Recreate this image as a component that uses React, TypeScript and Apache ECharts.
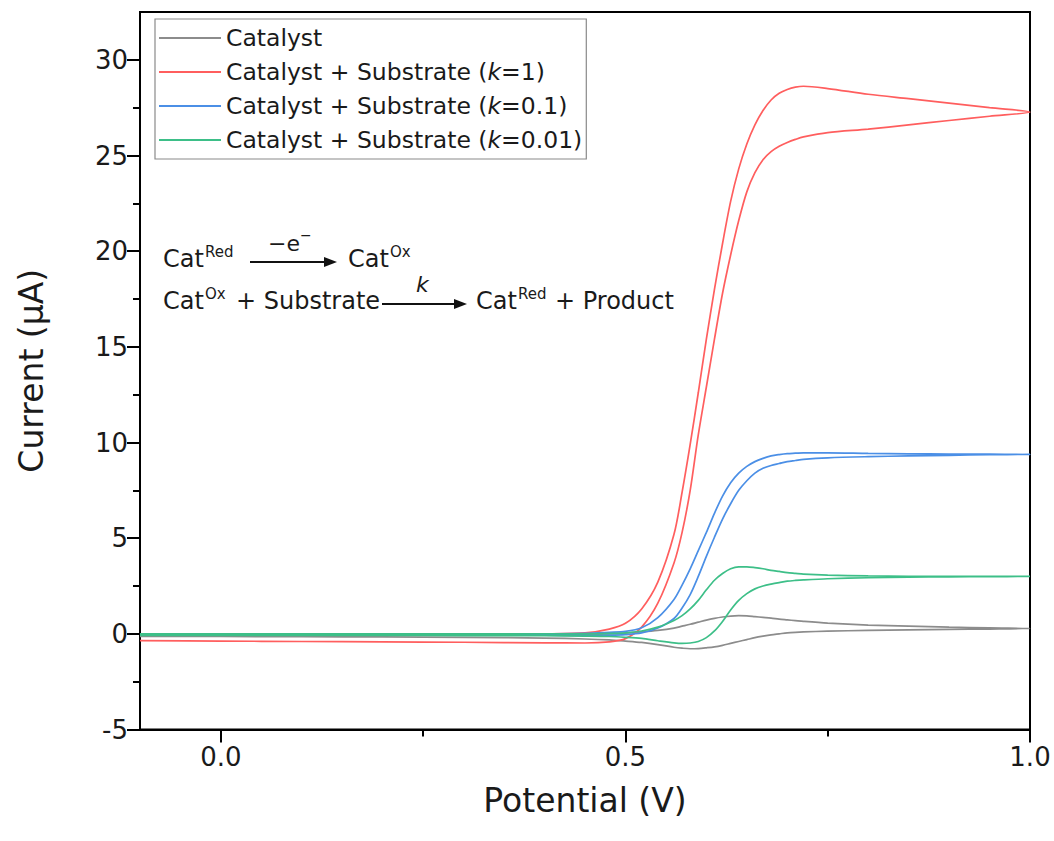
import React, { useEffect, useRef } from "react";
import * as echarts from "echarts";

// Potential grid (V) for the forward scan; the reverse scan uses it reversed
const potentialForward = [-0.1, 0, 0.1, 0.2, 0.3, 0.4, 0.45, 0.48, 0.5, 0.52, 0.54, 0.56, 0.57, 0.58, 0.59, 0.6, 0.61, 0.62, 0.63, 0.64, 0.65, 0.66, 0.67, 0.68, 0.69, 0.7, 0.71, 0.72, 0.75, 0.8, 0.85, 0.9, 0.95, 1.0];
const potentialReverse = [...potentialForward].reverse();

// Current (µA), forward scan (ascending potential)
const catalystFwd = [-0.06, -0.06, -0.06, -0.06, -0.06, -0.05, -0.03, 0.0, 0.04, 0.1, 0.18, 0.3, 0.4, 0.5, 0.61, 0.72, 0.81, 0.88, 0.93, 0.95, 0.94, 0.9, 0.86, 0.82, 0.77, 0.73, 0.69, 0.65, 0.56, 0.46, 0.4, 0.35, 0.31, 0.28];
const k1Fwd = [-0.03, -0.03, -0.03, -0.03, -0.02, 0.0, 0.05, 0.25, 0.55, 1.3, 2.7, 5.2, 7.4, 9.9, 12.6, 15.4, 18.0, 20.4, 22.6, 24.3, 25.6, 26.6, 27.35, 27.9, 28.25, 28.45, 28.57, 28.62, 28.5, 28.2, 27.97, 27.74, 27.5, 27.27];
const k01Fwd = [-0.02, -0.02, -0.02, -0.02, -0.02, 0.0, 0.02, 0.08, 0.13, 0.32, 0.85, 1.8, 2.55, 3.4, 4.35, 5.3, 6.3, 7.2, 7.9, 8.4, 8.75, 9.0, 9.17, 9.3, 9.37, 9.42, 9.44, 9.46, 9.46, 9.43, 9.41, 9.4, 9.39, 9.38];
const k001Fwd = [0.0, 0.0, 0.0, 0.0, 0.0, 0.0, 0.0, 0.02, 0.05, 0.15, 0.35, 0.7, 0.95, 1.3, 1.75, 2.3, 2.8, 3.15, 3.4, 3.5, 3.5, 3.46, 3.4, 3.32, 3.26, 3.2, 3.16, 3.12, 3.07, 3.03, 3.01, 3.0, 3.0, 3.0];

// Current (µA), reverse scan (descending potential, 1.0 -> -0.1)
const catalystRev = [0.28, 0.25, 0.23, 0.21, 0.18, 0.14, 0.1, 0.08, 0.05, 0.0, -0.05, -0.12, -0.2, -0.3, -0.4, -0.5, -0.6, -0.68, -0.73, -0.77, -0.78, -0.75, -0.7, -0.56, -0.45, -0.38, -0.32, -0.27, -0.22, -0.18, -0.16, -0.15, -0.14, -0.13];
const k1Rev = [27.27, 27.05, 26.83, 26.6, 26.38, 26.2, 25.97, 25.84, 25.68, 25.48, 25.2, 24.78, 24.1, 23.1, 21.6, 19.8, 17.8, 15.4, 12.9, 10.4, 7.5, 5.3, 3.7, 1.6, 0.35, -0.25, -0.42, -0.48, -0.47, -0.44, -0.42, -0.4, -0.38, -0.36];
const k01Rev = [9.38, 9.36, 9.33, 9.3, 9.26, 9.2, 9.12, 9.06, 9.0, 8.9, 8.8, 8.65, 8.4, 8.0, 7.5, 6.8, 6.0, 5.05, 4.05, 3.0, 2.05, 1.35, 0.8, 0.3, 0.05, -0.04, -0.07, -0.08, -0.07, -0.06, -0.06, -0.06, -0.06, -0.06];
const k001Rev = [3.0, 2.99, 2.98, 2.96, 2.93, 2.88, 2.82, 2.79, 2.75, 2.68, 2.6, 2.5, 2.35, 2.1, 1.75, 1.25, 0.65, 0.15, -0.2, -0.4, -0.48, -0.5, -0.47, -0.36, -0.24, -0.18, -0.14, -0.12, -0.1, -0.09, -0.08, -0.08, -0.08, -0.08];

const seriesNames = [
  "Catalyst",
  "Catalyst + Substrate (k=1)",
  "Catalyst + Substrate (k=0.1)",
  "Catalyst + Substrate (k=0.01)",
];
const seriesColors = ["#8c8c8c", "#ff5e5e", "#4b8fe6", "#3dbf88"];

const xMajorTicks = [0, 0.5, 1.0];
const xMinorTicks = [0.25, 0.75];
const yMajorTicks = [-5, 0, 5, 10, 15, 20, 25, 30];
const yMinorTicks = [-2.5, 2.5, 7.5, 12.5, 17.5, 22.5, 27.5];

const FONT = "DejaVu Sans";

function loop(fwd: number[], rev: number[]) {
  const pts: number[][] = [];
  potentialForward.forEach((v, i) => pts.push([v, fwd[i]]));
  potentialReverse.forEach((v, i) => pts.push([v, rev[i]]));
  return pts;
}

function txt(text: string, x: number, y: number, size: number, extra: any = {}) {
  return {
    type: "text",
    x,
    y,
    style: {
      text,
      fontFamily: FONT,
      fontSize: size,
      fill: "#1a1a1a",
      textVerticalAlign: "middle",
      textAlign: "left",
      ...extra,
    },
    z: 10,
  };
}

function arrow(x1: number, x2: number, y: number) {
  return [
    { type: "line", shape: { x1, y1: y, x2: x2 - 6, y2: y }, style: { stroke: "#111", lineWidth: 2 }, z: 10 },
    { type: "polygon", shape: { points: [[x2, y], [x2 - 13, y - 5], [x2 - 13, y + 5]] }, style: { fill: "#111" }, z: 10 },
  ];
}

export default function App() {
  const ref = useRef<HTMLDivElement>(null);
  useEffect(() => {
    if (!ref.current) return;
    const chart = echarts.init(ref.current, undefined, { renderer: "svg" });
    const data = [
      loop(catalystFwd, catalystRev),
      loop(k1Fwd, k1Rev),
      loop(k01Fwd, k01Rev),
      loop(k001Fwd, k001Rev),
    ];
    const l1 = 259;
    const l2 = 301;
    chart.setOption({
      animation: false,
      backgroundColor: "#ffffff",
      textStyle: { fontFamily: FONT },
      grid: {
        left: 140,
        top: 12,
        width: 890,
        height: 717.5,
        show: true,
        borderColor: "#000",
        borderWidth: 2,
        backgroundColor: "transparent",
      },
      legend: {
        orient: "vertical",
        left: 155,
        top: 19,
        padding: [7, 4, 7, 4],
        itemGap: 10,
        itemWidth: 62,
        itemHeight: 2,
        icon: "rect",
        borderColor: "#8a8a8a",
        borderWidth: 1.2,
        data: seriesNames,
        formatter: (name: string) => name.replace("(k=", "({i|k}="),
        textStyle: {
          fontFamily: FONT,
          fontSize: 23.5,
          lineHeight: 24,
          color: "#1a1a1a",
          rich: { i: { fontStyle: "italic", fontFamily: FONT, fontSize: 23.5, lineHeight: 24, color: "#1a1a1a" } },
        },
      },
      xAxis: [
        {
          type: "value",
          min: -0.1,
          max: 1.0,
          position: "bottom",
          name: "Potential (V)",
          nameLocation: "middle",
          nameGap: 54,
          nameTextStyle: { fontFamily: FONT, fontSize: 33, color: "#1a1a1a" },
          axisLine: { show: true, onZero: false, lineStyle: { color: "#000", width: 2 } },
          axisTick: { show: true, customValues: xMajorTicks, length: 13, lineStyle: { color: "#000", width: 2 } },
          axisLabel: {
            customValues: xMajorTicks,
            formatter: (v: number) => v.toFixed(1),
            fontFamily: FONT,
            fontSize: 26,
            color: "#1a1a1a",
            margin: 14,
          },
          splitLine: { show: false },
        },
        {
          type: "value",
          min: -0.1,
          max: 1.0,
          position: "bottom",
          axisLine: { show: false, onZero: false },
          axisTick: { show: true, customValues: xMinorTicks, length: 7, lineStyle: { color: "#000", width: 2 } },
          axisLabel: { show: false },
          splitLine: { show: false },
        },
      ],
      yAxis: [
        {
          type: "value",
          min: -5,
          max: 32.5,
          position: "left",
          name: "Current (μA)",
          nameLocation: "middle",
          nameGap: 92,
          nameTextStyle: { fontFamily: FONT, fontSize: 33, color: "#1a1a1a" },
          axisLine: { show: true, onZero: false, lineStyle: { color: "#000", width: 2 } },
          axisTick: { show: true, customValues: yMajorTicks, length: 13, lineStyle: { color: "#000", width: 2 } },
          axisLabel: {
            customValues: yMajorTicks,
            formatter: (v: number) => String(v),
            fontFamily: FONT,
            fontSize: 26,
            color: "#1a1a1a",
            margin: 12,
          },
          splitLine: { show: false },
        },
        {
          type: "value",
          min: -5,
          max: 32.5,
          position: "left",
          axisLine: { show: false, onZero: false },
          axisTick: { show: true, customValues: yMinorTicks, length: 7, lineStyle: { color: "#000", width: 2 } },
          axisLabel: { show: false },
          splitLine: { show: false },
        },
      ],
      series: seriesNames.map((name, i) => ({
        name,
        type: "line",
        xAxisIndex: 0,
        yAxisIndex: 0,
        data: data[i],
        smooth: 0.3,
        symbol: "none",
        color: seriesColors[i],
        lineStyle: { color: seriesColors[i], width: 1.7 },
        z: 2 + i,
      })),
      graphic: [
        txt("Cat", 163, l1, 24),
        txt("Red", 205, l1 - 7, 15),
        ...arrow(250, 337, l1 + 3),
        txt("−e", 268, l1 - 16, 22),
        txt("−", 300, l1 - 24, 14),
        txt("Cat", 348, l1, 24),
        txt("Ox", 390, l1 - 7, 15),
        txt("Cat", 163, l2, 24),
        txt("Ox", 205, l2 - 7, 15),
        txt("+ Substrate", 236, l2, 24),
        ...arrow(382, 467, l2 + 3),
        txt("k", 416, l2 - 17, 22, { fontStyle: "italic" }),
        txt("Cat", 476, l2, 24),
        txt("Red", 518, l2 - 7, 15),
        txt("+ Product", 555, l2, 24),
      ],
    });
    return () => chart.dispose();
  }, []);
  return <div ref={ref} style={{ position: "fixed", left: 0, top: 0, width: 1054, height: 841 }} />;
}
